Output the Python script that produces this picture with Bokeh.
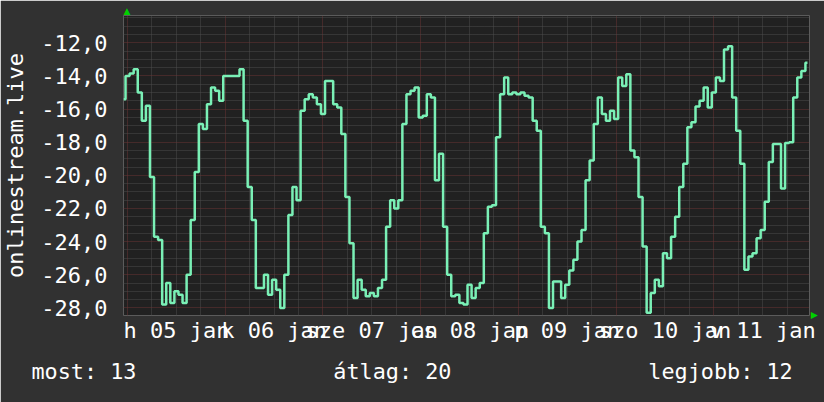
from bokeh.plotting import figure
from bokeh.models import Range1d, FixedTicker, Grid, Title
from bokeh.embed import file_html
from bokeh.resources import INLINE

# ---- data (hours since Mon 05 Jan 00:00) ----
hours = list(range(-1, 168))
values = [
    -15.4,
    -14.0, -13.85, -13.6, -15.0, -16.7, -15.8, -20.1, -23.7, -23.9, -27.8, -26.5, -27.7,
    -27.0, -27.2, -27.7, -26.0, -22.7, -19.8, -16.9, -17.2, -15.7, -14.7, -14.9, -15.5,
    -14.0, -14.0, -14.0, -14.0, -13.6, -16.7, -20.7, -22.7, -26.8, -26.8, -26.0, -27.2,
    -26.3, -26.9, -28.0, -26.0, -22.4, -20.7, -21.5, -16.1, -15.4, -15.1, -15.3, -15.7,
    -16.3, -14.3, -14.3, -15.7, -15.9, -17.5, -21.3, -24.1, -27.4, -26.3, -26.9, -27.3,
    -27.1, -27.3, -26.8, -26.3, -23.1, -21.5, -22.0, -21.5, -16.9, -15.1, -14.9, -14.7,
    -16.5, -16.4, -15.1, -15.3, -20.3, -18.7, -23.1, -26.0, -27.3, -27.2, -27.7, -27.8,
    -26.6, -27.4, -26.8, -26.5, -23.5, -21.9, -21.8, -17.7, -15.1, -14.1, -15.1, -15.0,
    -15.1, -15.0, -15.2, -15.3, -16.7, -17.3, -23.1, -23.5, -28.0, -26.4, -26.4, -27.4,
    -26.6, -25.75, -25.1, -24.0, -23.3, -20.3, -19.1, -16.9, -15.3, -16.3, -16.7, -16.1,
    -16.6, -14.1, -14.6, -13.9, -18.5, -18.9, -21.3, -24.3, -28.3, -27.1, -26.3, -26.7,
    -24.7, -25.0, -23.7, -22.5, -20.7, -19.3, -17.1, -16.8, -15.85, -15.5, -14.7, -15.9,
    -15.0, -14.1, -14.3, -12.4, -12.2, -15.3, -17.3, -19.3, -25.7, -24.9, -24.7, -23.8,
    -23.3, -21.6, -19.2, -18.1, -18.1, -20.8, -18.05, -18.0, -15.3, -14.1, -13.7, -13.2,
]

x_label_hours = [12, 36, 60, 84, 108, 132, 156]
x_labels = ["h 05 jan", "k 06 jan", "sze 07 jan", "cs 08 jan", "p 09 jan", "szo 10 jan", "v 11 jan"]
day_lines = [0, 24, 48, 72, 96, 120, 144, 168]
six_hour_lines = [d + q for d in day_lines for q in (6, 12, 18)]

y_ticks = [-28, -26, -24, -22, -20, -18, -16, -14, -12]
y_labels = ["-28,0", "-26,0", "-24,0", "-22,0", "-20,0", "-18,0", "-16,0", "-14,0", "-12,0"]
y_minor = [v / 2 for v in range(-57, -19) if v % 4 != 0]

series_name = "onlinestream.live"
summary_names = ["most", "átlag", "legjobb"]
summary_values = [13, 20, 12]

# ---- styles ----
BACK = "#313131"
CANVAS = "#212121"
LINE = "#7af0b6"
GRAY = "#4c4c4c"
RED = "#6a3434"
ARROW = "#00d000"
FONT = "DejaVu Sans Mono"
FS = "22px"

p = figure(width=824, height=402, output_backend="svg", toolbar_location=None,
           x_range=Range1d(-1.0, 167.5), y_range=Range1d(-28.46, -10.35),
           min_border_left=123, min_border_right=15, min_border_top=15, min_border_bottom=87)
p.title.visible = False
p.background_fill_color = CANVAS
p.border_fill_color = BACK
p.outline_line_color = None
p.grid.visible = False

xgrid = Grid(dimension=0, ticker=FixedTicker(ticks=day_lines, minor_ticks=six_hour_lines),
             grid_line_color=RED, grid_line_dash="1 1", grid_line_width=1,
             minor_grid_line_color=GRAY, minor_grid_line_dash="1 1", minor_grid_line_width=1)
ygrid = Grid(dimension=1, ticker=FixedTicker(ticks=y_ticks, minor_ticks=y_minor),
             grid_line_color=RED, grid_line_dash="1 1", grid_line_width=1,
             minor_grid_line_color=GRAY, minor_grid_line_dash="1 1", minor_grid_line_width=1)
p.renderers.extend([xgrid, ygrid])

p.step(x=hours, y=values, mode="center", line_color=LINE, line_width=2.5)

for ax in (p.xaxis[0], p.yaxis[0]):
    ax.axis_line_color = None
    ax.major_tick_line_color = None
    ax.minor_tick_line_color = None
    ax.major_label_text_color = "white"
    ax.major_label_text_font = FONT
    ax.major_label_text_font_size = FS

p.xaxis[0].ticker = FixedTicker(ticks=x_label_hours)
p.xaxis[0].major_label_overrides = {h: t for h, t in zip(x_label_hours, x_labels)}
p.xaxis[0].major_label_standoff = -4
p.yaxis[0].ticker = FixedTicker(ticks=y_ticks)
p.yaxis[0].major_label_overrides = {v: t for v, t in zip(y_ticks, y_labels)}
p.yaxis[0].major_label_standoff = 10
p.yaxis[0].axis_label = series_name
p.yaxis[0].axis_label_text_font = FONT
p.yaxis[0].axis_label_text_font_size = FS
p.yaxis[0].axis_label_text_font_style = "normal"
p.yaxis[0].axis_label_text_color = "white"
p.yaxis[0].axis_label_standoff = 10

# summary line (monospace columns)
summary_cols = [0, 23, 47]
NBSP = "\u00a0"
line = ""
for col, name, val in zip(summary_cols, summary_names, summary_values):
    line += NBSP * (col - len(line)) + f"{name}: {val}"
p.add_layout(Title(text=line, align="left", offset=-92, standoff=23,
                   text_font=FONT, text_font_size="21.8px", text_font_style="normal",
                   text_color="white"), "below")

# axis arrows
p.add_layout(Title(text="\u25b2", align="left", offset=0, standoff=0,
                   text_font="DejaVu Sans", text_font_size="9px", text_font_style="normal",
                   text_color=ARROW), "above")
p.add_layout(Title(text="\u25b2", align="right", offset=-3.5, standoff=0,
                   text_font="DejaVu Sans", text_font_size="9px", text_font_style="normal",
                   text_color=ARROW), "right")

html = file_html(p, INLINE, title="onlinestream.live")
open("out.html", "w").write(html)
